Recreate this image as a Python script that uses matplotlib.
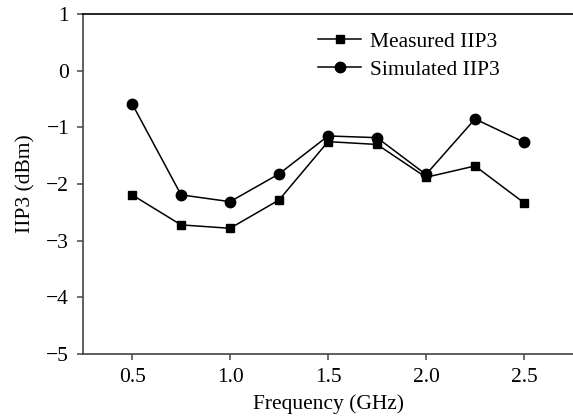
import matplotlib
matplotlib.use("Agg")
import matplotlib.pyplot as plt

freq = [0.5, 0.75, 1.0, 1.25, 1.5, 1.75, 2.0, 2.25, 2.5]
measured = [-2.19, -2.72, -2.78, -2.28, -1.25, -1.30, -1.88, -1.68, -2.33]
simulated = [-0.58, -2.19, -2.31, -1.82, -1.15, -1.18, -1.83, -0.85, -1.26]

plt.rcParams["font.family"] = ["Liberation Serif", "DejaVu Serif"]
plt.rcParams["font.size"] = 15.5

fig = plt.figure(figsize=(5.73, 4.17), dpi=100)
ax = fig.add_axes([0.145, 0.151, 0.855, 0.815])

ax.plot(freq, measured, color="black", lw=1.1, marker="s", ms=6,
        label="Measured IIP3")
ax.plot(freq, simulated, color="black", lw=1.1, marker="o", ms=7.5,
        label="Simulated IIP3")

ax.set_xlim(0.25, 2.75)
ax.set_ylim(-5, 1)
ax.set_xticks([0.5, 1.0, 1.5, 2.0, 2.5])
ax.set_yticks(range(-5, 2))
ax.set_xlabel("Frequency (GHz)", labelpad=5)
ax.set_ylabel("IIP3 (dBm)", labelpad=8)

ax.spines["right"].set_visible(False)
for s in ("left", "bottom"):
    ax.spines[s].set_color("#444444")
    ax.spines[s].set_linewidth(1.2)
ax.spines["top"].set_linewidth(1.2)
ax.tick_params(direction="out", length=4, width=1.1, color="#444444", pad=6)

ax.legend(loc="upper left", bbox_to_anchor=(0.44, 1.005), frameon=False,
          handlelength=2.0, handletextpad=0.4, labelspacing=0.35,
          fontsize=15.5)

fig.savefig("out.png", dpi=100)
